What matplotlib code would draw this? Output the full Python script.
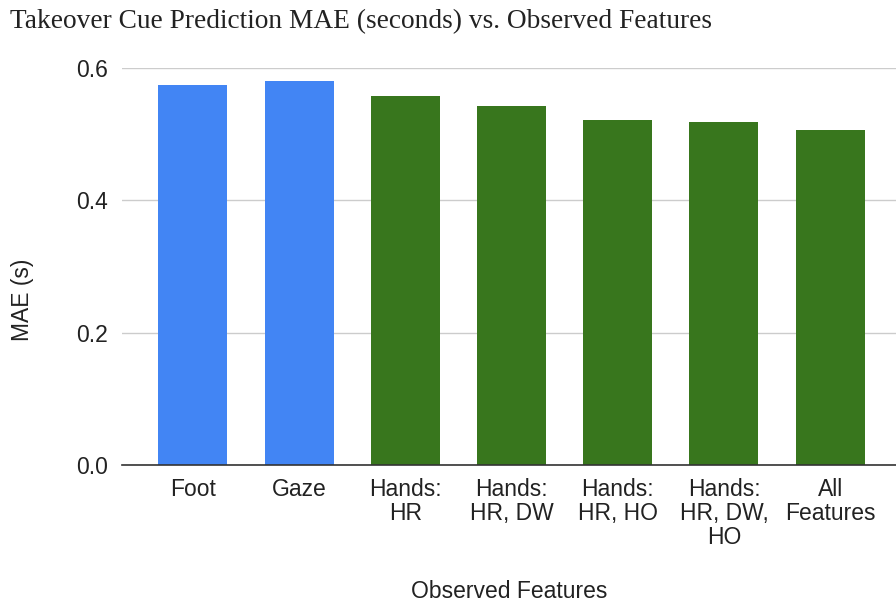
import matplotlib
matplotlib.use("Agg")
from matplotlib import pyplot as plt

categories = ["Foot", "Gaze", "Hands:\nHR", "Hands:\nHR, DW", "Hands:\nHR, HO",
              "Hands:\nHR, DW,\nHO", "All\nFeatures"]
mae = [0.574, 0.581, 0.557, 0.542, 0.521, 0.518, 0.506]
bar_colors = ["#4285F4", "#4285F4", "#38761D", "#38761D", "#38761D", "#38761D", "#38761D"]
y_ticks = [0.0, 0.2, 0.4, 0.6]

fig = plt.figure(figsize=(8.96, 6.08), dpi=100)
ax = fig.add_axes([122 / 896, 143 / 608, 774 / 896, 397 / 608])

x = list(range(len(categories)))
ax.bar(x, mae, width=0.65, color=bar_colors, zorder=3)

ax.set_xlim(-0.668, 6.62)
ax.set_ylim(0, 0.6)
ax.set_yticks(y_ticks)
ax.set_yticklabels([f"{v:.1f}" for v in y_ticks])
ax.set_xticks(x)
ax.set_xticklabels(categories, linespacing=1.08)

ax.grid(axis="y", color="#cccccc", linewidth=1, zorder=0)
for s in ["top", "right", "left"]:
    ax.spines[s].set_visible(False)
ax.spines["bottom"].set_color("#333333")
ax.spines["bottom"].set_linewidth(1.2)
ax.spines["bottom"].set_zorder(4)

ax.tick_params(axis="both", length=0, labelsize=16.5, labelcolor="#222222")
ax.tick_params(axis="x", pad=9)
ax.tick_params(axis="y", pad=10)
for lab in ax.get_xticklabels() + ax.get_yticklabels():
    lab.set_family("Liberation Sans")

ax.set_ylabel("MAE (s)", family="Liberation Sans", fontsize=16.5, color="#222222")
ax.yaxis.label.set_va("center")
ax.yaxis.set_label_coords(-0.129, 0.416)
ax.set_xlabel("Observed Features", family="Liberation Sans", fontsize=16.5, color="#222222")
ax.xaxis.label.set_va("baseline")
ax.xaxis.set_label_coords(0.5, -0.335)

fig.text(10 / 896, 1 - 28 / 608, "Takeover Cue Prediction MAE (seconds) vs. Observed Features",
         family="Liberation Serif", fontsize=19.7, color="#222222", va="baseline", ha="left")

fig.savefig("out.png", dpi=100)
